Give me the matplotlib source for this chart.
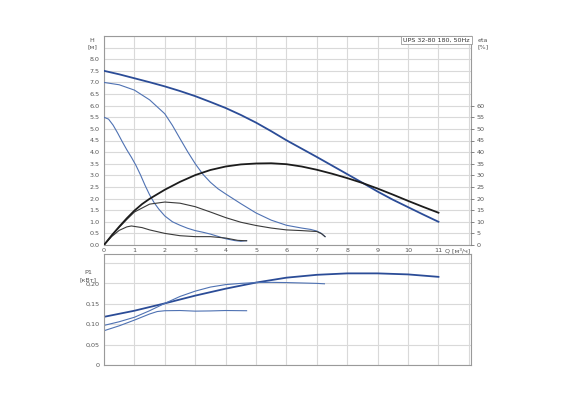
import matplotlib
matplotlib.use("Agg")
import matplotlib.pyplot as plt

# ---- data ----
q_hmax = [0, 0.5, 1, 1.5, 2, 2.5, 3, 3.5, 4, 4.5, 5, 5.5, 6, 6.5, 7, 7.5, 8, 8.5, 9, 9.5, 10, 10.5, 11]
h_max = [7.5, 7.35, 7.18, 7.01, 6.83, 6.63, 6.41, 6.16, 5.9, 5.6, 5.27, 4.9, 4.51, 4.15, 3.79, 3.42, 3.05, 2.68, 2.3, 1.95, 1.63, 1.31, 1.0]

q_hmed = [0, 0.5, 1, 1.5, 2, 2.25, 2.5, 2.75, 3, 3.25, 3.5, 3.75, 4, 4.5, 5, 5.5, 6, 6.5, 6.8, 7.0, 7.15, 7.27]
h_med = [7.0, 6.9, 6.67, 6.25, 5.65, 5.15, 4.58, 4.02, 3.5, 3.05, 2.7, 2.42, 2.2, 1.78, 1.38, 1.07, 0.85, 0.73, 0.67, 0.6, 0.5, 0.36]

q_hmin = [0, 0.15, 0.3, 0.45, 0.6, 0.75, 0.9, 1.05, 1.2, 1.35, 1.5, 1.65, 1.8, 2.0, 2.25, 2.5, 2.75, 3.0, 3.25, 3.5, 3.75, 4.0, 4.3, 4.5, 4.69]
h_min = [5.5, 5.42, 5.16, 4.82, 4.45, 4.1, 3.78, 3.43, 3.02, 2.57, 2.16, 1.82, 1.55, 1.25, 1.0, 0.85, 0.72, 0.62, 0.55, 0.47, 0.37, 0.27, 0.19, 0.16, 0.19]

q_emax = [0, 0.25, 0.5, 0.75, 1, 1.25, 1.5, 2, 2.5, 3, 3.5, 4, 4.5, 5, 5.5, 6, 6.5, 7, 7.5, 8, 8.5, 9, 9.5, 10, 10.5, 11]
eta_max = [0, 4.1, 7.9, 11.5, 14.8, 17.6, 19.9, 23.8, 27.2, 30.1, 32.3, 33.8, 34.7, 35.1, 35.2, 34.8, 33.8, 32.4, 30.7, 28.8, 26.7, 24.3, 21.7, 19.0, 16.4, 13.9]

q_emed = [0, 0.25, 0.5, 0.75, 1, 1.5, 2, 2.5, 3, 3.5, 4, 4.5, 5, 5.5, 6, 6.5, 7, 7.15, 7.27]
eta_med = [0, 4.0, 7.6, 11.0, 14.2, 17.6, 18.5, 18.0, 16.5, 14.2, 11.8, 9.8, 8.4, 7.3, 6.5, 6.2, 5.8, 4.9, 3.6]

q_emin = [0, 0.25, 0.5, 0.75, 0.9, 1.25, 1.5, 2, 2.5, 3, 3.5, 4, 4.4, 4.69]
eta_min = [0, 3.6, 6.3, 7.8, 8.2, 7.5, 6.5, 5.0, 4.0, 3.6, 3.6, 3.0, 2.0, 1.8]

q_pmax = [0, 1, 2, 3, 4, 5, 6, 7, 8, 9, 10, 11]
p_max = [0.118, 0.133, 0.151, 0.170, 0.187, 0.202, 0.214, 0.221, 0.2245, 0.2245, 0.222, 0.216]

q_pmed = [0, 0.5, 1, 1.5, 2, 2.5, 3, 3.5, 4, 4.5, 5, 5.5, 6, 6.5, 7, 7.25]
p_med = [0.097, 0.106, 0.117, 0.133, 0.151, 0.168, 0.181, 0.191, 0.197, 0.200, 0.202, 0.2025, 0.202, 0.201, 0.200, 0.199]

q_pmin = [0, 0.5, 1, 1.5, 1.75, 2, 2.5, 3, 3.5, 4, 4.69]
p_min = [0.084, 0.096, 0.110, 0.125, 0.131, 0.133, 0.1335, 0.132, 0.1325, 0.1335, 0.133]

x_ticks = list(range(0, 12))
eta_ticks = list(range(0, 65, 5))
p_labels = ["0", "0,05", "0,10", "0,15", "0,20", ""]
title = "UPS 32-80 180, 50Hz"

# ---- styling ----
BLUE_T = "#2b4c97"
BLUE_L = "#4f72b3"
BLACK_T = "#1c1c1c"
BLACK_L = "#3a3a3a"
GRID = "#d9d9d9"
SPINE = "#9a9a9a"
TXT = "#555555"
FS = 4.6

fig = plt.figure(figsize=(5.68, 4.08), dpi=100)
ax = fig.add_axes([104/568, 1-245/408, 367/568, 209/408])
axp = fig.add_axes([104/568, 1-365/408, 367/568, 111/408])

XMAX = 12.07
for a in (ax, axp):
    a.set_xlim(0, XMAX)
    for s in a.spines.values():
        s.set_color(SPINE)
        s.set_linewidth(0.8)
    a.set_xticks(range(0, 13))
    a.grid(True, color=GRID, linewidth=0.8)
    a.set_axisbelow(True)
    a.tick_params(colors=TXT, labelsize=FS, length=2, width=0.5, pad=1.5)

# top panel
yt = [i * 0.5 for i in range(0, 19)]
ax.set_ylim(0, 9.0)
ax.set_yticks(yt)
ax.set_yticklabels([f"{v:.1f}" if v <= 8.0 else "" for v in yt])
ax.set_xticklabels([str(v) for v in x_ticks] + [""])
ax.tick_params(axis="y", length=0, pad=3)
ax.tick_params(axis="x", length=0, pad=2.5)

ax.plot(q_hmax, h_max, color=BLUE_T, lw=1.3, zorder=5)
ax.plot(q_hmed, h_med, color=BLUE_L, lw=0.8, zorder=4)
ax.plot(q_hmin, h_min, color=BLUE_L, lw=0.8, zorder=4)

axe = ax.twinx()
axe.set_ylim(0, 90)
axe.set_yticks(eta_ticks)
axe.set_yticklabels([str(v) for v in eta_ticks])
axe.tick_params(colors=TXT, labelsize=FS, length=2, width=0.5, pad=2)
for s in axe.spines.values():
    s.set_visible(False)
axe.plot(q_emax, eta_max, color=BLACK_T, lw=1.3, zorder=5)
axe.plot(q_emed, eta_med, color=BLACK_L, lw=0.8, zorder=4)
axe.plot(q_emin, eta_min, color=BLACK_L, lw=0.8, zorder=4)

# bottom panel
axp.set_ylim(0, 0.272)
axp.set_yticks([0, 0.05, 0.10, 0.15, 0.20, 0.25])
axp.set_yticklabels(p_labels)
axp.set_xticklabels([])
axp.tick_params(axis="x", length=0)
axp.tick_params(axis="y", length=0, pad=3)
axp.plot(q_pmax, p_max, color=BLUE_T, lw=1.3)
axp.plot(q_pmed, p_med, color=BLUE_L, lw=0.8)
axp.plot(q_pmin, p_min, color=BLUE_L, lw=0.8)

# labels
fig.text(92/568, 1-40/408, "H", fontsize=FS, color=TXT, ha="center", va="center")
fig.text(92/568, 1-46.5/408, "[м]", fontsize=FS, color=TXT, ha="center", va="center")
fig.text(483/568, 1-40/408, "eta", fontsize=FS, color=TXT, ha="center", va="center")
fig.text(483/568, 1-46.5/408, "[%]", fontsize=FS, color=TXT, ha="center", va="center")
fig.text(88/568, 1-273/408, "P1", fontsize=FS, color=TXT, ha="center", va="center")
fig.text(88/568, 1-279.5/408, "[кВт]", fontsize=FS, color=TXT, ha="center", va="center")
fig.text(458/568, 1-250/408, "Q [м³/ч]", fontsize=FS, color=TXT, ha="center", va="center")

ax.text(0.997, 0.993, title, transform=ax.transAxes, fontsize=FS, color="#333333",
        ha="right", va="top", zorder=10,
        bbox=dict(boxstyle="square,pad=0.3", fc="white", ec=SPINE, lw=0.6))

fig.savefig("out.png", dpi=100)
